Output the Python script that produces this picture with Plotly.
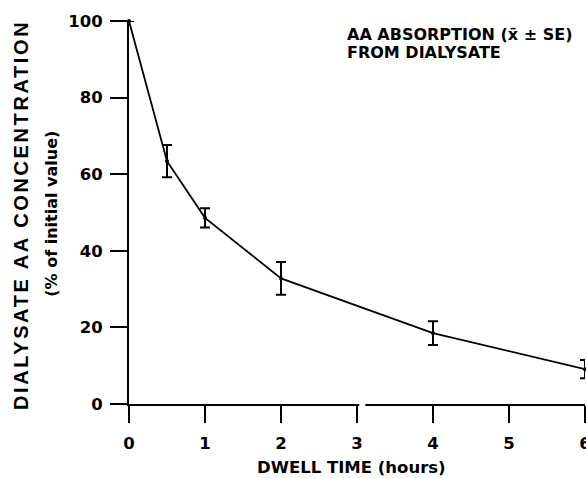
import plotly.graph_objects as go

# Data
dwell_hours = [0, 0.5, 1, 2, 4, 6]
concentration_pct = [100, 63.4, 48.6, 32.8, 18.5, 9.1]
se_pct = [0, 4.2, 2.5, 4.3, 3.1, 2.4]

x_ticks = [0, 1, 2, 3, 4, 5, 6]
y_ticks = [0, 20, 40, 60, 80, 100]

FONT = "DejaVu Sans"
FONT2 = "Liberation Sans"

fig = go.Figure()
fig.add_trace(go.Scatter(
    x=dwell_hours,
    y=concentration_pct,
    mode="lines+markers",
    line=dict(color="black", width=1.8),
    marker=dict(color="black", size=4),
    error_y=dict(type="data", array=se_pct, visible=True,
                 color="black", thickness=2, width=5),
    cliponaxis=False,
    showlegend=False,
))

fig.update_layout(
    width=586, height=478,
    margin=dict(l=129, r=1, t=21, b=74, autoexpand=False),
    paper_bgcolor="white", plot_bgcolor="white",
    font=dict(family=FONT, color="black"),
    xaxis=dict(
        range=[0, 6], tickvals=x_ticks, ticktext=[str(v) for v in x_ticks],
        showgrid=False, zeroline=False, showline=True, linecolor="black",
        linewidth=2, ticks="outside", ticklen=17, tickwidth=2, tickcolor="black",
        tickfont=dict(family=FONT, size=16.5, weight="bold"),
        ticklabelstandoff=6, automargin=False, ticklabeloverflow="allow",
    ),
    yaxis=dict(
        range=[0, 100], tickvals=y_ticks, ticktext=[str(v) for v in y_ticks],
        showgrid=False, zeroline=False, showline=True, linecolor="black",
        linewidth=2, ticks="outside", ticklen=17, tickwidth=2, tickcolor="black",
        tickfont=dict(family=FONT, size=16.5, weight="bold"),
        ticklabelstandoff=4, automargin=False, ticklabeloverflow="allow",
    ),
)

# axis break on the x-axis just right of 3
fig.add_shape(type="rect", xref="x", yref="paper", x0=3.03, x1=3.11,
              y0=-0.012, y1=0.012, fillcolor="white", line=dict(width=0),
              layer="above")

fig.add_annotation(
    text="<span style='letter-spacing:2.6px'>DIALYSATE AA CONCENTRATION</span>",
    x=-0.2368, y=0.4935, xref="paper", yref="paper",
    xanchor="center", yanchor="middle", textangle=-90, showarrow=False,
    font=dict(family=FONT2, size=20, weight="bold"),
)
fig.add_annotation(
    text="(% of initial value)", x=-0.17, y=0.498, xref="paper", yref="paper",
    xanchor="center", yanchor="middle", textangle=-90, showarrow=False,
    font=dict(family=FONT, size=16, weight="bold"),
)
fig.add_annotation(
    text="DWELL TIME (hours)", x=0.487, y=-0.166, xref="paper", yref="paper",
    xanchor="center", yanchor="middle", showarrow=False,
    font=dict(family=FONT, size=16.5, weight="bold"),
)

fig.add_annotation(text="AA ABSORPTION (x\u0304 \u00b1 SE)", x=2.84, y=96.4,
                   xref="x", yref="y", xanchor="left", yanchor="middle",
                   showarrow=False,
                   font=dict(family=FONT, size=16, weight="bold"))
fig.add_annotation(text="FROM DIALYSATE", x=2.84, y=91.9,
                   xref="x", yref="y", xanchor="left", yanchor="middle",
                   showarrow=False,
                   font=dict(family=FONT, size=16, weight="bold"))

fig.write_html(
    "out.html",
    config={"displayModeBar": False},
    post_script="document.body.style.margin='0px';"
                "document.body.style.overflow='hidden';",
)
